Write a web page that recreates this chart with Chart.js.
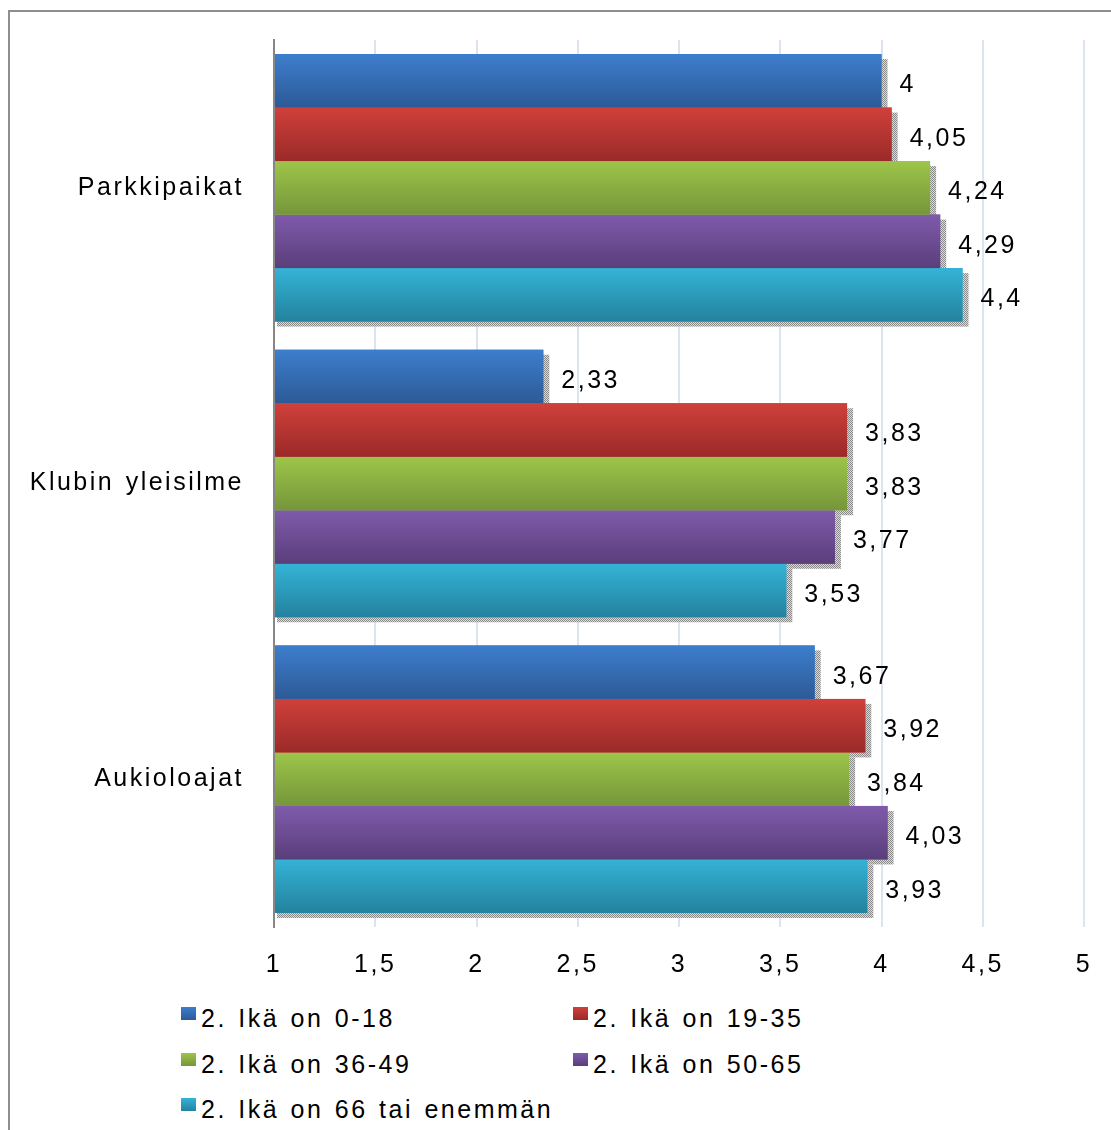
<!DOCTYPE html>
<html>
<head>
    <meta charset="utf-8"/>
    <title>Ikäryhmät</title>
    <style>
        body { margin: 0; width: 1111px; height: 1130px; background: #fff; overflow: hidden; position: relative; font-family: "Liberation Sans", Arial, sans-serif; }
        #frame { position: absolute; left: 8px; top: 10px; width: 1120px; height: 1140px; border-top: 2px solid #8e8e8e; border-left: 2px solid #8e8e8e; }
        #wrap { position: absolute; left: 0; top: 0; width: 1111px; height: 1000px; }
        #legend { position: absolute; left: 181px; top: 1003px; display: grid; grid-template-columns: 392px 392px; grid-auto-rows: 45.5px; }
        .item { position: relative; height: 30px; line-height: 30px; padding-left: 20px; font-size: 25px; letter-spacing: 2.5px; word-spacing: 2px; color: #000; white-space: nowrap; }
        .box { position: absolute; left: 0; top: 4px; width: 15px; height: 13px; }
    </style>
    <script src="https://cdn.jsdelivr.net/npm/chart.js@4/dist/chart.umd.min.js"></script>
</head>
<body>
<div id="frame"></div>
<div id="wrap"><canvas id="chart"></canvas></div>
<div id="legend"></div>
<script>
    // data
    const categories = ['Parkkipaikat', 'Klubin yleisilme', 'Aukioloajat'];
    const seriesNames = ['2. Ikä on 0-18', '2. Ikä on 19-35', '2. Ikä on 36-49', '2. Ikä on 50-65', '2. Ikä on 66 tai enemmän'];
    const age0_18 = [4, 2.33, 3.67];
    const age19_35 = [4.05, 3.83, 3.92];
    const age36_49 = [4.24, 3.83, 3.84];
    const age50_65 = [4.29, 3.77, 4.03];
    const age66plus = [4.4, 3.53, 3.93];
    const xMin = 1, xMax = 5, xStep = 0.5;

    const colorTop = ['#3d7ecd', '#d0403b', '#9dc549', '#7f5bab', '#34b3d6'];
    const colorBottom = ['#2c5a96', '#9a2a28', '#76963a', '#5a3e7b', '#24829e'];
    const FONT = '"Liberation Sans", Arial, sans-serif';

    function fmt(v) {
        return String(Math.round(v * 100) / 100).replace('.', ',');
    }

    // legend
    const legendEl = document.getElementById('legend');
    seriesNames.forEach((name, i) => {
        const item = document.createElement('div');
        item.className = 'item';
        const box = document.createElement('span');
        box.className = 'box';
        box.style.background = `linear-gradient(${colorTop[i]}, ${colorBottom[i]})`;
        item.appendChild(box);
        item.appendChild(document.createTextNode(name));
        legendEl.appendChild(item);
    });

    // dotted shadow pattern
    const pc = document.createElement('canvas');
    pc.width = 2; pc.height = 2;
    const pctx = pc.getContext('2d');
    pctx.fillStyle = '#dadada'; pctx.fillRect(0, 0, 2, 2);
    pctx.fillStyle = '#8a8a8a'; pctx.fillRect(0, 0, 1, 1); pctx.fillRect(1, 1, 1, 1);

    function spacing(chart) {
        chart.ctx.letterSpacing = '2.5px';
        chart.ctx.wordSpacing = '2px';
    }

    const barStyle = {
        id: 'barStyle',
        beforeLayout: spacing,
        beforeDraw: spacing,
        beforeDatasetsDraw(chart) {
            const ctx = chart.ctx;
            const pattern = ctx.createPattern(pc, 'repeat');
            ctx.save();
            ctx.fillStyle = pattern;
            chart.data.datasets.forEach((ds, i) => {
                chart.getDatasetMeta(i).data.forEach((el) => {
                    const p = el.getProps(['x', 'y', 'base', 'height'], true);
                    const left = Math.min(p.base, p.x) + 2;
                    const w = Math.abs(p.x - p.base) + 4;
                    ctx.fillRect(left, p.y - p.height / 2 + 5, w, p.height);
                });
            });
            ctx.restore();
        },
        afterDatasetDraw(chart, args) {
            const ctx = chart.ctx;
            const i = args.index;
            ctx.save();
            args.meta.data.forEach((el) => {
                const p = el.getProps(['x', 'y', 'base', 'height'], true);
                const top = p.y - p.height / 2;
                const g = ctx.createLinearGradient(0, top, 0, top + p.height);
                g.addColorStop(0, colorTop[i]);
                g.addColorStop(1, colorBottom[i]);
                ctx.fillStyle = g;
                ctx.fillRect(Math.min(p.base, p.x), top, Math.abs(p.x - p.base), p.height);
            });
            ctx.restore();
        },
        afterDatasetsDraw(chart) {
            const ctx = chart.ctx;
            ctx.save();
            ctx.font = '25px ' + FONT;
            ctx.fillStyle = '#000';
            ctx.textAlign = 'left';
            ctx.textBaseline = 'middle';
            chart.data.datasets.forEach((ds, i) => {
                chart.getDatasetMeta(i).data.forEach((el, j) => {
                    const p = el.getProps(['x', 'y'], true);
                    ctx.fillText(fmt(ds.data[j]), p.x + 18, p.y + 4.5);
                });
            });
            ctx.restore();
        }
    };

    function onStart() {
        const values = [age0_18, age19_35, age36_49, age50_65, age66plus];
        const chart = new Chart(document.getElementById('chart').getContext('2d'), {
            type: 'bar',
            data: {
                labels: categories,
                datasets: values.map((v, i) => ({
                    label: seriesNames[i],
                    data: v,
                    base: xMin,
                    backgroundColor: colorTop[i],
                    borderWidth: 0,
                    categoryPercentage: 0.905,
                    barPercentage: 1
                }))
            },
            options: {
                indexAxis: 'y',
                responsive: true,
                maintainAspectRatio: false,
                animation: false,
                layout: { padding: { top: 40, right: 27, bottom: 13, left: 0 } },
                plugins: {
                    legend: { display: false },
                    tooltip: { enabled: false }
                },
                scales: {
                    x: {
                        type: 'linear',
                        min: xMin,
                        max: xMax,
                        afterFit: (scale) => {
                            scale.height = 60;
                            scale.paddingLeft = 0;
                            scale.paddingRight = 0;
                        },
                        ticks: {
                            stepSize: xStep,
                            color: '#000',
                            padding: 23,
                            font: { family: FONT, size: 25 },
                            callback: (value) => fmt(value)
                        },
                        grid: {
                            drawTicks: false,
                            lineWidth: 2,
                            color: (c) => (c.tick && c.tick.value === xMin) ? 'rgba(0,0,0,0)' : '#dbe4f0'
                        },
                        border: { display: false }
                    },
                    y: {
                        afterFit: (scale) => {
                            scale.width = 274;
                            scale.paddingTop = 0;
                            scale.paddingBottom = 0;
                        },
                        ticks: {
                            color: '#000',
                            padding: 30,
                            font: { family: FONT, size: 25 }
                        },
                        grid: { display: false, drawTicks: false },
                        border: { display: true, color: '#878787', width: 2, z: 1 }
                    }
                }
            },
            plugins: [barStyle]
        });
    }

    onStart();
</script>
</body>
</html>
